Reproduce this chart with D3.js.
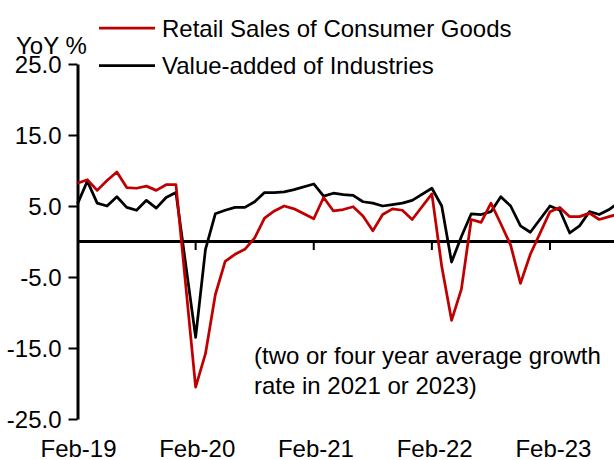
<!DOCTYPE html>
<html>
<head>
<meta charset="utf-8">
<script src="https://cdn.jsdelivr.net/npm/d3@7"></script>
<style>
  html, body { margin: 0; padding: 0; background: #fff; }
  svg { display: block; }
  text { font-family: "Liberation Sans", Arial, sans-serif; fill: #000; }
</style>
</head>
<body>
<svg id="chart" width="614" height="460"></svg>
<script>
// ---- DATA (monthly, Feb-19 .. Sep-23; January not reported -> null) ----
const months = [
  "Feb-19","Mar-19","Apr-19","May-19","Jun-19","Jul-19","Aug-19","Sep-19","Oct-19","Nov-19","Dec-19",
  "Jan-20","Feb-20","Mar-20","Apr-20","May-20","Jun-20","Jul-20","Aug-20","Sep-20","Oct-20","Nov-20","Dec-20",
  "Jan-21","Feb-21","Mar-21","Apr-21","May-21","Jun-21","Jul-21","Aug-21","Sep-21","Oct-21","Nov-21","Dec-21",
  "Jan-22","Feb-22","Mar-22","Apr-22","May-22","Jun-22","Jul-22","Aug-22","Sep-22","Oct-22","Nov-22","Dec-22",
  "Jan-23","Feb-23","Mar-23","Apr-23","May-23","Jun-23","Jul-23","Aug-23","Sep-23"
];
const retailSales = [
  8.2, 8.7, 7.2, 8.6, 9.8, 7.6, 7.5, 7.8, 7.2, 8.0, 8.0,
  null, -20.5, -15.8, -7.5, -2.8, -1.8, -1.1, 0.5, 3.3, 4.3, 5.0, 4.6,
  null, 3.2, 6.2, 4.3, 4.5, 4.9, 3.6, 1.5, 3.8, 4.6, 4.4, 3.1,
  null, 6.7, -3.5, -11.1, -6.7, 3.1, 2.7, 5.4, 2.5, -0.5, -5.9, -1.8,
  null, 4.2, 4.8, 3.5, 3.5, 4.0, 3.1, 3.5, 3.9
];
const valueAdded = [
  5.3, 8.5, 5.4, 5.0, 6.3, 4.8, 4.4, 5.8, 4.7, 6.2, 6.9,
  null, -13.5, -1.1, 3.9, 4.4, 4.8, 4.8, 5.6, 6.9, 6.9, 7.0, 7.3,
  null, 8.1, 6.4, 6.8, 6.6, 6.5, 5.6, 5.4, 5.0, 5.2, 5.4, 5.8,
  null, 7.5, 5.0, -2.9, 0.7, 3.9, 3.8, 4.2, 6.3, 5.0, 2.2, 1.3,
  null, 5.0, 4.4, 1.2, 2.2, 4.2, 3.8, 4.5, 5.5
];
const yTicks = [25, 15, 5, -5, -15, -25];
const xTickLabels = ["Feb-19", "Feb-20", "Feb-21", "Feb-22", "Feb-23"];
const seriesNames = ["Retail Sales of Consumer Goods", "Value-added of Industries"];
const seriesColors = ["#C00000", "#000000"];
const yAxisTitle = "YoY %";
const noteLines = ["(two or four year average growth", "rate in 2021 or 2023)"];

// ---- LAYOUT ----
const svg = d3.select("#chart");
const W = 614;
const x = d3.scaleLinear().domain([0, months.length - 2]).range([77.5, 77.5 + 9.844 * (months.length - 2)]);
const y = d3.scaleLinear().domain([-25, 25]).range([419, 64]);
const FONT = 24;

// Y axis
const yAxis = d3.axisLeft(y)
  .tickValues(yTicks)
  .tickSize(9)
  .tickSizeOuter(0)
  .tickPadding(7)
  .tickFormat(d => d.toFixed(1));
const yg = svg.append("g").attr("transform", `translate(${x(0)},0)`).call(yAxis);
yg.select(".domain").attr("stroke", "#000").attr("stroke-width", 3);
yg.selectAll(".tick line").attr("stroke", "#000").attr("stroke-width", 2);
yg.selectAll(".tick text")
  .attr("font-size", FONT)
  .attr("font-family", "'Liberation Sans', Arial, sans-serif")
  .attr("fill", "#000")
  .attr("dy", "0.36em");

// Y axis title
svg.append("text")
  .attr("x", 16).attr("y", 53.5)
  .attr("font-size", FONT)
  .text(yAxisTitle);

// X axis (zero line) with ticks every 12 months
svg.append("line")
  .attr("x1", x(0)).attr("x2", W)
  .attr("y1", y(0)).attr("y2", y(0))
  .attr("stroke", "#000").attr("stroke-width", 3);

const xTickIdx = xTickLabels.map(lab => months.indexOf(lab));
svg.selectAll("line.xtick")
  .data(xTickIdx.filter(i => i > 0))
  .join("line")
  .attr("class", "xtick")
  .attr("x1", d => x(d)).attr("x2", d => x(d))
  .attr("y1", y(0)).attr("y2", y(0) + 8.5)
  .attr("stroke", "#000").attr("stroke-width", 2);

svg.selectAll("text.xlab")
  .data(xTickLabels)
  .join("text")
  .attr("class", "xlab")
  .attr("x", (d, i) => x(xTickIdx[i]) + 1 + i * 0.6)
  .attr("y", 456.5)
  .attr("text-anchor", "middle")
  .attr("font-size", FONT)
  .text(d => d);

// Lines (January gaps are bridged)
const line = d3.line().x(d => x(d.i)).y(d => y(d.v));
[valueAdded, retailSales].forEach((vals, k) => {
  const pts = vals.map((v, i) => ({ i, v })).filter(d => d.v !== null);
  svg.append("path")
    .datum(pts)
    .attr("d", line)
    .attr("fill", "none")
    .attr("stroke", k === 0 ? seriesColors[1] : seriesColors[0])
    .attr("stroke-width", 2.75)
    .attr("stroke-linejoin", "round");
});

// Legend
const legend = svg.append("g");
seriesNames.forEach((name, k) => {
  const cy = 28 + k * 37.5;
  legend.append("line")
    .attr("x1", 99).attr("x2", 155)
    .attr("y1", cy).attr("y2", cy)
    .attr("stroke", seriesColors[k]).attr("stroke-width", 2.75);
  legend.append("text")
    .attr("x", 162).attr("y", cy + 8.5)
    .attr("font-size", FONT)
    .text(name);
});

// Note
svg.selectAll("text.note")
  .data(noteLines)
  .join("text")
  .attr("class", "note")
  .attr("x", 254)
  .attr("y", (d, i) => 364 + i * 29.5)
  .attr("font-size", FONT)
  .text(d => d);
</script>
</body>
</html>
